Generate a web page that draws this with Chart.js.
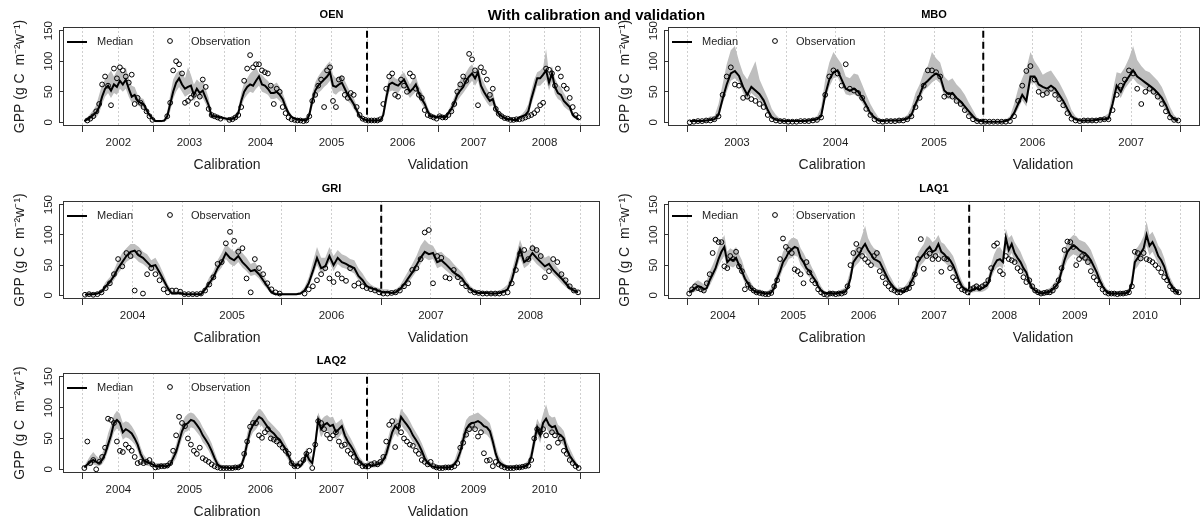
<!DOCTYPE html>
<html>
<head>
<meta charset="utf-8">
<script src="https://cdn.jsdelivr.net/npm/chart.js@4.4.0/dist/chart.umd.min.js"></script>
<style>
  html, body { margin: 0; padding: 0; background: #fff; width: 1202px; height: 519px; overflow: hidden; }
  .panel { position: absolute; }
  #mainTitle {
    position: absolute; left: 0; width: 1193px; top: 6px; line-height: 17px;
    text-align: center; font: bold 15px "Liberation Sans", Arial, sans-serif; color: #000;
  }
</style>
</head>
<body>
<canvas id="oen" class="panel"></canvas>
<canvas id="mbo" class="panel"></canvas>
<canvas id="gri" class="panel"></canvas>
<canvas id="laq1" class="panel"></canvas>
<canvas id="laq2" class="panel"></canvas>
<div id="mainTitle">With calibration and validation</div>
<script>
// weekly GPP aggregated to half-month slots, 24 per year, first slot = early January
const yTicks = [0, 50, 100, 150];

// ---- OEN 2002-2008 ----
const oenMedian = [
  2,5,8,12,16,25,42,55,60,52,62,58,68,62,70,55,42,45,35,32,30,20,12,6,
  2,2,2,3,10,30,50,65,72,62,55,58,60,45,55,48,52,40,28,10,10,9,8,7,
  6,5,6,8,15,35,50,58,62,60,68,75,62,60,55,48,48,50,45,38,25,15,9,6,
  5,4,4,3,12,35,52,60,65,70,75,82,60,58,62,65,55,45,38,30,20,10,6,4,
  3,3,3,3,3,12,40,62,65,62,60,65,70,60,50,55,62,48,38,30,18,10,10,8,
  10,9,8,15,22,32,45,52,58,68,75,80,72,82,60,50,42,35,38,22,14,10,7,5,
  5,4,4,8,10,12,18,38,55,72,72,78,85,65,80,58,48,45,35,30,25,12,8,5
];
const oenUpper = [
  3,8,14,20,28,45,62,70,78,85,75,85,88,80,90,72,60,58,45,40,38,25,15,8,
  3,3,3,5,18,45,70,80,85,82,72,90,78,62,70,65,70,55,40,15,12,11,10,9,
  8,8,8,12,22,48,65,72,80,85,90,80,78,72,68,62,62,65,58,48,35,20,12,8,
  6,6,5,5,20,48,65,75,82,88,95,100,78,72,75,78,68,58,48,40,28,15,8,6,
  5,5,5,5,5,20,55,72,78,72,70,78,82,72,62,70,75,60,50,40,25,15,12,10,
  12,12,12,20,30,42,58,70,75,82,90,95,85,92,75,65,55,48,50,30,20,14,10,8,
  7,6,6,10,14,20,30,52,70,82,85,90,120,80,92,72,62,58,48,40,32,18,12,7
];
const oenLower = [
  0,2,4,6,8,15,30,42,48,40,48,45,55,50,55,42,32,35,28,25,22,14,8,3,
  0,0,0,1,4,18,38,50,58,50,42,45,48,35,42,38,40,30,18,6,6,5,5,4,
  3,3,3,4,8,25,38,45,50,48,55,60,50,48,45,38,38,40,35,30,18,10,6,4,
  2,2,2,1,6,25,40,48,52,58,62,68,48,45,50,52,45,35,30,22,14,6,4,2,
  1,1,1,1,1,6,28,50,52,50,48,55,58,48,40,45,50,38,30,22,12,6,6,5,
  6,5,5,9,14,22,35,42,48,55,62,68,60,68,48,40,32,26,28,15,9,6,4,3,
  3,2,2,5,6,8,12,28,44,60,60,65,70,52,66,46,38,35,26,22,18,8,5,3
];
const oenObs = [
  null,3,6,10,18,30,62,75,60,28,88,72,90,85,75,65,78,30,40,32,25,18,10,4,
  null,null,null,null,10,32,85,100,95,80,32,35,40,45,30,42,70,58,22,12,10,8,6,null,
  null,4,5,8,12,25,68,88,110,90,95,95,85,82,80,60,30,55,50,25,15,8,5,4,
  3,3,2,3,10,35,45,60,70,25,85,90,35,25,70,72,45,40,48,45,25,12,6,4,
  3,3,3,3,5,30,55,75,80,45,42,70,60,50,80,75,55,45,40,20,12,10,8,6,
  10,8,8,12,18,30,50,62,75,68,112,103,85,28,90,82,70,45,55,22,14,10,7,6,
  4,4,5,5,6,8,10,12,15,20,28,32,88,86,80,60,88,75,60,55,40,25,12,8
];

// ---- MBO 2003-2007 ----
const mboMedian = [
  2,2,2,2,3,4,5,12,38,62,80,84,76,58,45,58,52,46,36,20,8,4,3,2,
  2,2,2,2,2,3,4,5,10,45,70,82,85,70,55,52,55,50,40,28,15,8,3,2,
  3,3,3,3,4,6,12,30,45,62,68,75,80,75,52,46,48,40,34,26,18,10,3,2,
  1,1,1,1,1,2,5,15,30,45,35,75,75,62,58,55,60,55,45,35,22,10,5,3,
  3,3,3,4,5,5,6,30,60,50,65,75,85,75,70,65,60,55,48,40,28,12,5,3
];
const mboUpper = [
  3,3,3,4,6,10,10,30,62,95,118,125,100,80,70,85,100,70,55,40,22,12,6,4,
  3,3,3,4,5,6,8,10,25,70,98,115,105,95,75,72,80,78,62,45,30,18,8,4,
  4,4,5,6,8,12,25,48,62,82,92,115,105,98,75,68,72,62,55,45,32,20,8,4,
  2,2,2,2,3,5,10,30,55,72,88,115,100,90,78,82,85,75,65,52,38,20,10,5,
  5,5,6,7,8,10,15,50,82,80,90,105,125,102,92,85,82,75,68,58,42,25,12,6
];
const mboLower = [
  0,0,0,1,1,2,3,6,30,50,68,72,65,48,36,48,42,36,26,14,4,2,1,0,
  0,0,0,0,1,1,2,3,6,36,58,72,74,60,46,44,46,42,32,20,10,4,1,0,
  1,1,1,1,2,3,6,22,36,52,58,65,70,64,42,38,40,32,26,18,10,5,1,0,
  0,0,0,0,0,1,2,10,22,36,26,64,64,52,48,46,50,46,36,26,14,5,2,1,
  1,1,1,2,2,2,3,22,50,40,55,64,72,64,60,55,50,45,38,30,18,6,2,1
];
const mboObs = [
  0,1,2,2,3,3,5,10,45,75,90,62,60,40,42,38,35,30,25,12,5,3,2,2,
  1,1,1,2,2,2,3,4,8,45,75,85,80,60,95,55,52,48,40,22,12,5,2,1,
  2,2,2,3,3,5,10,25,40,60,85,85,82,75,42,45,42,35,30,20,10,5,2,1,
  1,1,1,1,1,1,2,10,35,60,84,92,70,50,45,48,55,45,38,28,15,6,3,2,
  3,3,3,3,4,5,5,20,45,60,70,85,80,55,30,50,55,50,42,30,18,8,4,3
];

// ---- GRI 2004-2008 ----
const griMedian = [
  1,2,2,3,6,15,22,32,45,55,65,72,74,66,62,55,48,50,38,25,12,3,3,4,
  2,2,2,2,2,10,20,30,45,55,70,62,58,65,55,48,40,42,35,25,15,5,2,2,
  2,2,2,2,3,8,20,40,62,45,48,65,50,62,55,52,48,45,32,25,15,12,10,7,
  5,5,4,5,10,18,28,38,50,62,72,68,70,55,58,52,45,38,33,28,18,10,6,4,
  4,4,3,3,4,6,10,25,50,76,55,60,70,62,55,48,52,42,35,28,20,12,8,5
];
const griUpper = [
  2,5,4,5,10,22,30,42,58,70,78,85,85,80,72,68,58,62,50,35,18,8,8,8,
  4,4,4,4,5,15,30,40,58,70,85,78,72,80,70,62,52,55,45,35,22,10,5,4,
  4,4,4,4,6,14,30,55,80,62,62,80,65,75,68,65,60,58,45,36,25,18,14,12,
  10,10,8,10,16,28,40,52,65,82,92,85,82,70,72,65,60,52,45,38,26,16,10,8,
  8,7,6,7,8,12,18,40,66,92,72,75,85,78,70,62,66,55,46,38,28,18,12,8
];
const griLower = [
  0,0,0,1,3,10,16,25,36,45,55,60,62,55,52,46,40,42,30,18,6,1,1,1,
  0,0,0,0,0,6,14,24,38,46,60,52,48,55,46,40,32,34,28,18,10,2,0,0,
  0,0,0,0,1,4,14,32,50,36,40,55,40,52,46,44,40,36,25,18,10,8,6,4,
  2,2,2,2,6,12,20,30,40,52,62,58,60,45,48,42,36,30,26,22,12,6,3,2,
  2,2,1,1,2,3,6,18,40,62,45,50,60,52,46,40,44,34,28,20,14,8,5,3
];
const griObs = [
  1,2,1,2,5,12,20,35,60,48,70,65,8,70,3,35,45,35,25,10,5,8,8,6,
  2,2,2,2,3,8,18,30,52,55,86,105,90,72,78,28,5,60,45,35,20,10,5,3,
  null,null,null,null,null,3,10,15,25,35,45,28,22,35,28,24,45,16,20,15,12,10,8,5,
  3,3,4,5,8,15,20,42,45,60,104,108,20,65,62,30,28,42,30,20,15,8,5,4,
  3,3,3,3,3,4,5,20,42,69,75,60,78,75,65,30,40,60,55,35,25,15,8,5
];

// ---- LAQ1 2004-2010 ----
const laq1Median = [
  5,8,12,15,14,10,12,25,35,45,60,72,80,55,60,58,62,50,40,28,20,12,8,5,
  5,4,3,3,5,12,28,40,55,62,72,76,80,78,62,55,45,40,32,25,15,8,4,3,
  4,3,3,4,5,5,12,28,55,62,68,78,85,75,68,60,58,55,45,35,25,18,12,8,
  8,6,10,15,25,35,55,62,68,75,80,72,75,85,72,68,62,58,50,38,25,15,10,8,
  8,10,12,10,12,15,20,38,50,58,60,55,95,75,85,70,62,55,45,38,22,12,8,5,
  3,4,5,6,10,15,22,40,58,72,78,82,80,75,72,70,65,58,48,38,25,15,8,4,
  3,3,3,3,3,4,6,20,55,62,70,78,100,82,88,78,65,58,48,32,20,12,6,4
];
const laq1Upper = [
  12,16,22,25,22,18,25,40,50,62,78,90,100,72,78,75,80,68,58,42,32,22,14,10,
  10,8,6,8,12,22,40,55,72,80,90,95,95,92,78,70,60,55,45,36,25,15,8,6,
  8,6,6,8,10,12,25,42,72,80,85,100,115,95,85,78,75,72,60,48,36,28,18,12,
  14,12,18,25,36,48,70,78,85,98,95,88,92,100,88,85,78,72,65,52,36,24,15,12,
  14,18,20,16,18,22,30,52,68,78,80,72,110,95,100,88,80,72,60,50,32,20,12,8,
  6,8,10,12,18,24,34,55,75,90,95,100,98,92,90,88,82,75,62,50,36,24,14,8,
  6,6,6,6,6,8,12,35,75,80,88,98,122,100,105,95,82,75,62,45,30,20,10,8
];
const laq1Lower = [
  2,4,6,8,8,5,8,16,26,36,48,58,65,44,48,46,50,40,32,20,14,8,4,2,
  2,1,1,1,2,6,20,30,44,50,60,62,66,64,50,44,35,30,24,18,10,4,1,1,
  1,1,1,1,2,2,6,20,44,50,55,64,70,62,55,48,46,44,35,26,18,12,7,4,
  4,3,5,8,16,25,42,50,55,62,66,60,62,70,60,55,50,46,40,28,18,9,6,4,
  4,5,6,5,6,8,12,28,40,46,48,44,78,62,70,56,50,44,35,28,15,7,4,2,
  1,1,2,2,5,8,14,30,46,58,64,68,66,62,58,56,52,46,38,28,16,8,4,1,
  1,1,1,1,1,2,3,12,42,48,56,62,82,66,72,62,52,46,36,22,12,6,2,1
];
const laq1Obs = [
  3,10,15,12,10,8,20,35,70,92,88,88,48,45,65,60,72,48,40,10,18,12,8,5,
  4,3,2,2,4,15,25,60,94,80,75,70,43,40,35,20,55,38,25,20,10,5,2,1,
  3,3,2,3,3,5,15,50,70,85,75,65,60,55,50,65,70,40,30,20,15,10,8,5,
  5,8,10,12,20,35,60,93,44,65,69,60,65,60,39,61,60,45,30,25,15,10,8,5,
  10,12,15,12,15,18,25,45,82,86,40,35,65,60,58,55,45,40,30,22,25,15,8,5,
  3,4,5,5,8,15,25,45,75,89,88,80,50,60,65,62,55,40,30,25,18,10,5,3,
  3,3,2,3,3,4,5,15,72,70,61,70,60,58,55,50,45,38,30,25,15,10,6,5
];

// ---- LAQ2 2004-2010 ----
const laq2Median = [
  3,8,12,15,12,10,15,25,40,55,75,80,75,60,65,62,58,50,40,25,15,12,10,8,
  5,5,6,5,5,8,18,28,45,62,72,75,80,78,72,65,55,48,40,30,18,8,4,3,
  3,2,2,3,3,6,20,42,62,72,78,85,82,75,68,62,58,52,48,40,32,22,10,5,
  8,5,12,25,15,10,40,80,65,72,75,70,72,60,65,70,55,45,38,30,20,12,8,5,
  8,6,6,8,10,15,25,42,60,70,65,85,78,72,65,55,48,40,30,18,10,6,4,3,
  3,3,3,3,4,8,15,28,48,65,72,75,76,78,75,70,68,62,45,25,12,8,5,3,
  3,3,3,3,4,5,8,20,45,68,55,75,82,72,68,70,58,55,50,32,22,15,8,3
];
const laq2Upper = [
  6,14,22,28,22,18,25,38,58,72,88,95,90,75,78,76,70,62,52,36,24,18,15,12,
  10,10,10,9,9,14,28,40,60,75,85,90,92,90,84,78,68,60,52,42,28,15,8,6,
  6,5,5,6,6,12,32,58,76,85,92,98,95,88,80,75,70,65,60,52,42,32,18,9,
  14,10,20,35,24,18,55,92,80,85,88,84,85,74,78,82,68,58,50,40,30,20,14,9,
  14,12,12,14,16,24,38,58,75,84,80,98,92,86,78,68,60,52,42,30,18,12,8,6,
  6,6,6,7,8,14,28,42,62,80,86,88,90,92,88,84,80,75,58,38,22,14,9,6,
  6,6,6,6,8,10,15,32,60,82,72,90,105,88,84,85,72,68,62,45,34,24,14,6
];
const laq2Lower = [
  1,4,6,8,6,5,8,16,30,44,60,66,62,48,52,50,46,40,30,16,8,6,5,4,
  2,2,3,2,2,4,10,18,34,50,60,62,68,66,60,54,44,38,30,20,10,4,1,1,
  1,1,1,1,1,3,12,30,50,60,65,72,70,62,56,50,46,42,38,30,22,14,5,2,
  4,2,6,16,8,5,28,66,52,60,62,58,60,48,52,58,44,35,28,20,12,6,4,2,
  4,3,3,4,5,8,15,30,48,58,52,72,65,60,52,44,38,30,20,10,5,3,2,1,
  1,1,1,1,2,4,8,18,36,52,60,62,64,66,62,58,56,50,34,16,6,4,2,1,
  1,1,1,1,2,2,4,12,32,55,42,62,68,58,55,58,46,44,38,22,12,8,4,1
];
const laq2Obs = [
  2,45,10,15,0,12,20,35,82,80,75,45,30,28,40,35,30,20,10,12,10,12,15,8,
  3,4,5,5,6,10,30,55,85,75,70,50,40,30,25,35,18,15,12,8,5,3,2,2,
  2,2,2,3,3,5,25,45,69,75,75,55,51,60,65,50,48,45,40,35,30,25,10,5,
  5,10,15,25,30,2,40,78,75,65,56,50,55,60,45,38,40,30,25,20,12,10,5,5,
  5,8,10,8,12,20,45,72,78,36,70,60,50,45,40,38,30,25,15,12,8,12,5,3,
  2,2,3,3,3,5,10,35,43,56,65,72,65,53,60,26,14,15,5,12,8,5,3,2,
  2,2,3,3,4,5,6,15,50,65,60,65,55,36,60,55,43,50,30,25,15,10,5,2
];

const panels = [
  { id: 'oen', name: 'OEN', start: 2002, years: 7, split: 2006,
    median: oenMedian, upper: oenUpper, lower: oenLower, obs: oenObs,
    box: { left: 0, top: 0, width: 605, height: 172 }, area: { left: 63, top: 27, right: 600, bottom: 126 } },
  { id: 'mbo', name: 'MBO', start: 2003, years: 5, split: 2006,
    median: mboMedian, upper: mboUpper, lower: mboLower, obs: mboObs,
    box: { left: 605, top: 0, width: 600, height: 172 }, area: { left: 63, top: 27, right: 599, bottom: 126 } },
  { id: 'gri', name: 'GRI', start: 2004, years: 5, split: 2007,
    median: griMedian, upper: griUpper, lower: griLower, obs: griObs,
    box: { left: 0, top: 173, width: 605, height: 172 }, area: { left: 63, top: 28, right: 600, bottom: 126 } },
  { id: 'laq1', name: 'LAQ1', start: 2004, years: 7, split: 2008,
    median: laq1Median, upper: laq1Upper, lower: laq1Lower, obs: laq1Obs,
    box: { left: 605, top: 173, width: 600, height: 172 }, area: { left: 63, top: 28, right: 599, bottom: 126 } },
  { id: 'laq2', name: 'LAQ2', start: 2004, years: 7, split: 2008,
    median: laq2Median, upper: laq2Upper, lower: laq2Lower, obs: laq2Obs,
    box: { left: 0, top: 346, width: 605, height: 172 }, area: { left: 63, top: 27, right: 600, bottom: 127 } }
];

const FONT = "'Liberation Sans', Arial, sans-serif";
const INK = '#1e1e1e';

// slot i -> decimal year at the middle of its half-month
function slotX(start, i) {
  return start + Math.floor(i / 24) + ((i % 24) + 0.5) / 24;
}
function toPoints(start, values) {
  const pts = [];
  values.forEach((v, i) => { if (v !== null) pts.push({ x: slotX(start, i), y: v }); });
  return pts;
}

// frame, split marker, legend and labels drawn on top of each panel
function decorPlugin(p) {
  return {
    id: 'decor',
    afterDraw(chart) {
      const { ctx, chartArea: a, scales: { x, y } } = chart;
      ctx.save();
      ctx.strokeStyle = '#333';
      ctx.lineWidth = 1;
      ctx.strokeRect(Math.round(a.left) + 0.5, Math.round(a.top) + 0.5,
        Math.round(a.right - a.left) - 1, Math.round(a.bottom - a.top) - 1);

      // y axis line spanning the tick range
      const ax = Math.round(a.left) - 4 + 0.5;
      ctx.beginPath();
      ctx.moveTo(ax, y.getPixelForValue(0));
      ctx.lineTo(ax, y.getPixelForValue(150));
      ctx.stroke();

      // calibration / validation split
      const sx = x.getPixelForValue(p.split);
      ctx.strokeStyle = '#000';
      ctx.lineWidth = 2;
      ctx.setLineDash([7, 4]);
      ctx.beginPath();
      ctx.moveTo(sx, y.getPixelForValue(150));
      ctx.lineTo(sx, y.getPixelForValue(0));
      ctx.stroke();
      ctx.setLineDash([]);

      // legend
      const ly = a.top + 15;
      ctx.beginPath();
      ctx.moveTo(a.left + 4, ly);
      ctx.lineTo(a.left + 24, ly);
      ctx.stroke();
      ctx.lineWidth = 1;
      ctx.beginPath();
      ctx.arc(a.left + 107, ly - 1, 2.4, 0, Math.PI * 2);
      ctx.stroke();
      ctx.fillStyle = INK;
      ctx.font = '11px ' + FONT;
      ctx.textAlign = 'left';
      ctx.textBaseline = 'middle';
      ctx.fillText('Median', a.left + 34, ly);
      ctx.fillText('Observation', a.left + 128, ly);

      // panel title
      ctx.font = 'bold 11px ' + FONT;
      ctx.textAlign = 'center';
      ctx.fillStyle = '#000';
      ctx.fillText(p.name, (a.left + a.right) / 2, a.top - 12);

      // period labels
      ctx.font = '14px ' + FONT;
      ctx.fillStyle = INK;
      ctx.fillText('Calibration', a.left + 164, a.bottom + 39);
      ctx.fillText('Validation', a.left + 375, a.bottom + 39);
      ctx.restore();
    }
  };
}

panels.forEach(p => {
  const canvas = document.getElementById(p.id);
  canvas.width = p.box.width;
  canvas.height = p.box.height;
  canvas.style.left = p.box.left + 'px';
  canvas.style.top = p.box.top + 'px';
  const pad = 0.04 * p.years;

  new Chart(canvas, {
    type: 'line',
    data: {
      datasets: [
        {
          label: 'Observation',
          data: toPoints(p.start, p.obs),
          showLine: false,
          pointRadius: 2.4,
          pointBorderWidth: 1,
          pointBorderColor: '#000',
          pointBackgroundColor: 'rgba(0,0,0,0)',
          order: 0
        },
        {
          label: 'Median',
          data: toPoints(p.start, p.median),
          borderColor: '#000',
          borderWidth: 2,
          pointRadius: 0,
          tension: 0,
          fill: false,
          order: 1
        },
        {
          label: 'Upper',
          data: toPoints(p.start, p.upper),
          borderColor: 'rgba(0,0,0,0)',
          borderWidth: 0,
          backgroundColor: '#bebebe',
          pointRadius: 0,
          fill: '+1',
          order: 2
        },
        {
          label: 'Lower',
          data: toPoints(p.start, p.lower),
          borderColor: 'rgba(0,0,0,0)',
          borderWidth: 0,
          pointRadius: 0,
          fill: false,
          order: 3
        }
      ]
    },
    options: {
      responsive: false,
      animation: false,
      devicePixelRatio: 1,
      layout: { padding: { left: 0, top: p.area.top, right: p.box.width - p.area.right, bottom: 0 } },
      plugins: { legend: { display: false }, tooltip: { enabled: false } },
      scales: {
        x: {
          type: 'linear',
          min: p.start - pad,
          max: p.start + p.years + pad,
          afterBuildTicks: scale => {
            const t = [];
            for (let k = 0; k <= p.years * 2; k++) t.push({ value: p.start + k / 2 });
            scale.ticks = t;
          },
          afterFit: scale => { scale.height = p.box.height - p.area.bottom; },
          grid: {
            color: '#cfcfcf',
            lineWidth: 1,
            tickLength: 6,
            tickWidth: 1,
            tickColor: c => (Number.isInteger(c.tick.value) ? '#333' : 'rgba(0,0,0,0)')
          },
          border: { display: false, dash: [2, 2] },
          ticks: {
            autoSkip: false, maxRotation: 0, minRotation: 0, padding: 4,
            color: INK, font: { family: FONT, size: 11.5 },
            callback: v => (Number.isInteger(v) ? '' : String(Math.floor(v)))
          }
        },
        y: {
          min: -6,
          max: 156,
          afterBuildTicks: scale => { scale.ticks = yTicks.map(v => ({ value: v })); },
          afterFit: scale => { scale.width = p.area.left; },
          grid: { drawOnChartArea: false, tickLength: 4, color: '#333', tickColor: '#333' },
          border: { display: false },
          ticks: {
            minRotation: 90, maxRotation: 90, crossAlign: 'center', padding: 1,
            color: INK, font: { family: FONT, size: 11.5 }
          },
          title: {
            display: true,
            text: 'GPP (g C  m\u207B\u00B2w\u207B\u00B9)',
            color: INK,
            font: { family: FONT, size: 14 },
            padding: { top: 12, bottom: 0 }
          }
        }
      }
    },
    plugins: [decorPlugin(p)]
  });
});
</script>
</body>
</html>
